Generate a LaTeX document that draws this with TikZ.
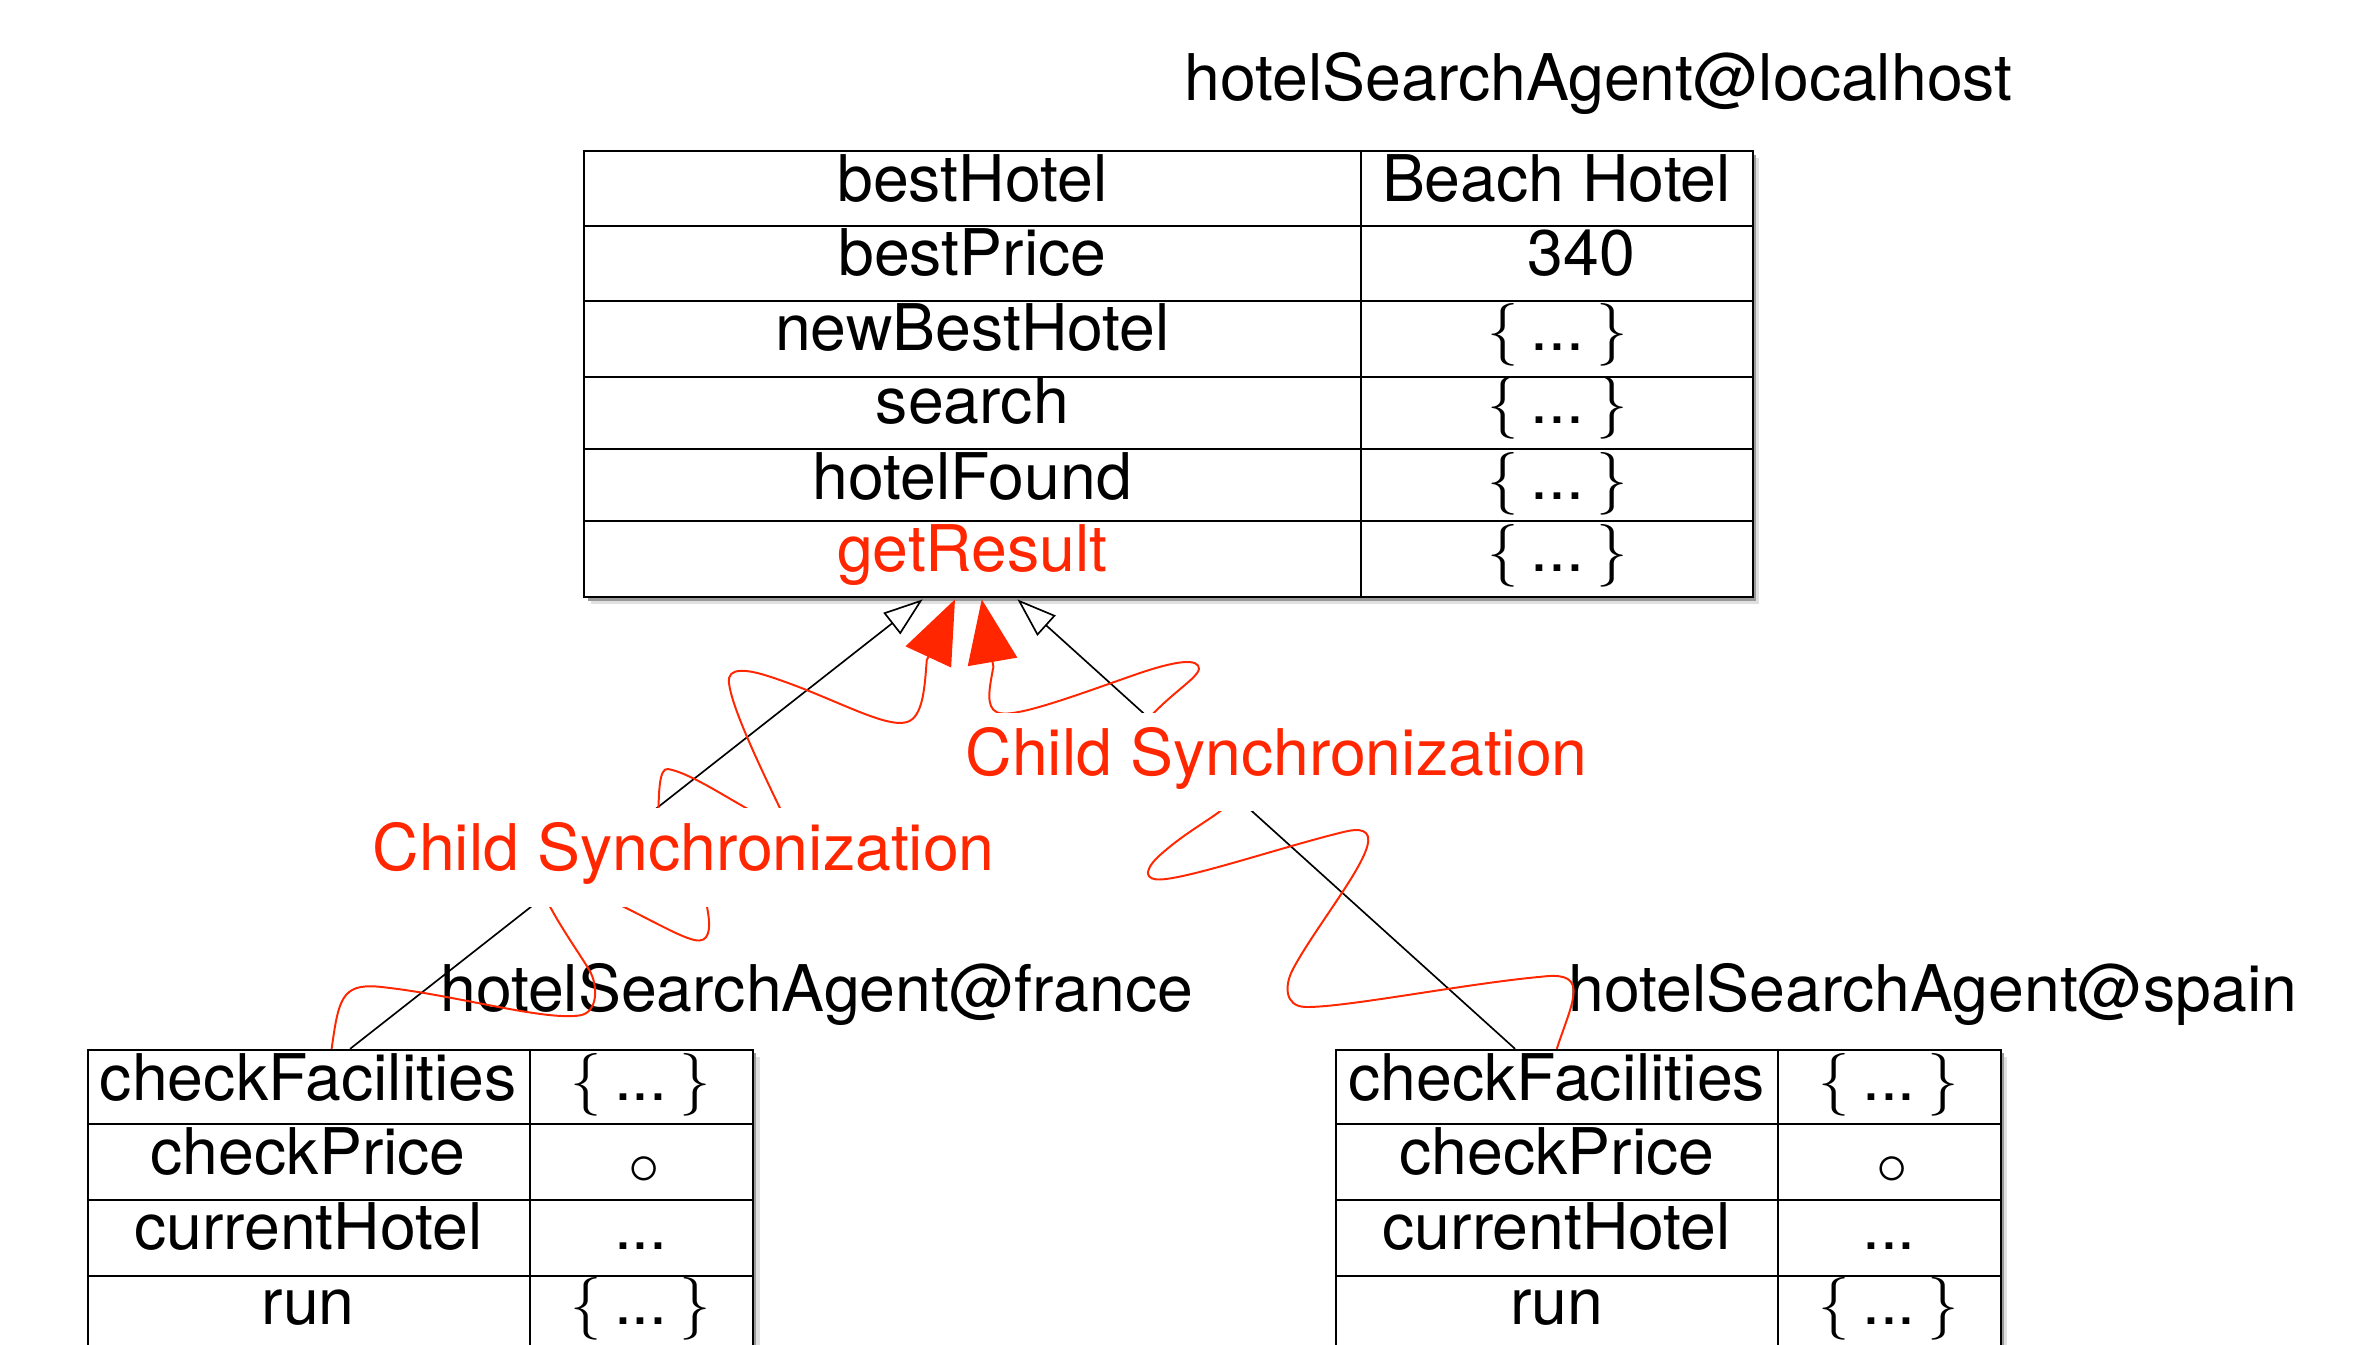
\documentclass[tikz,border=0pt]{standalone}
\usepackage{fontspec}
\setmainfont{TeX Gyre Heros}
\usetikzlibrary{arrows.meta,shadows}
\definecolor{syncred}{RGB}{255,38,0}
\newcommand\bval{$\{$\hspace{4pt}...\hspace{4pt}$\}$}
\begin{document}
\begin{tikzpicture}[x=0.5pt,y=-0.5pt,
  every node/.style={inner sep=0pt,font=\fontsize{21.3}{25}\selectfont},
  tbl/.style={draw,line width=0.7pt,fill=white,rectangle,anchor=north west,
    general shadow={draw=none,fill=black!12,shadow xshift=2.2pt,shadow yshift=-2.2pt},
    general shadow={draw=none,fill=black!40,shadow xshift=1.1pt,shadow yshift=-1.1pt}},
  tline/.style={line width=0.7pt},
  cell/.style={anchor=base},
  agentlab/.style={anchor=base west},
  synclab/.style={fill=white,text=syncred,anchor=base,text height=20.5pt,text depth=12pt,inner xsep=4pt,inner ysep=0pt},
  gen/.style={line width=0.55pt,-{Triangle[open,length=13pt,width=9pt]}},
  sync/.style={draw=syncred,line width=0.65pt,-{Triangle[length=21pt,width=16.5pt]}}
]
\useasboundingbox (0,0) rectangle (1568,890);
\clip (0,0) rectangle (1568,890);

% ---------- top table ----------
\node[agentlab] (ttitle) at (783.6,66.2) {hotelSearchAgent@localhost};
\node[tbl,minimum width=386.6pt,minimum height=147.6pt] (top) at (386.1,99.5) {};
\foreach \y in {149.4,199.5,249.3,297.2,344.9}
  \draw[tline] (386.1,\y) -- (1159.3,\y);
\draw[tline] (901.1,99.5) -- (901.1,394.7);
\foreach \i/\y/\t in {1/133.5/bestHotel,2/182.5/bestPrice,3/231.7/newBestHotel,4/280.2/search,5/330.5/hotelFound}
  \node[cell] (tn\i) at (643.6,\y) {\t};
\node[cell,text=syncred] (tn6) at (643.6,378.4) {getResult};
\node[cell] (tv1) at (1030.2,133.5) {Beach Hotel};
\node[cell] (tv2) at (1046.6,182.5) {340};
\foreach \i/\y in {3/231.7,4/280.2,5/330.5,6/378.4}
  \node[cell] (tv\i) at (1031,\y) {\bval};

% ---------- bottom tables ----------
\node[agentlab] (ftitle) at (291,669.6) {hotelSearchAgent@france};
\node[agentlab] (stitle) at (1038,669.6) {hotelSearchAgent@spain};
\node[tbl,minimum width=220.2pt,minimum height=100.15pt] (france) at (57.3,694.2) {};
\node[tbl,minimum width=219.85pt,minimum height=100.15pt] (spain) at (883.8,694.2) {};
\foreach \tb/\l/\d/\r/\nx/\vx in {f/57.3/350.6/497.7/204/424.2, s/883.8/1177/1323.5/1030.4/1250.3}{
  \foreach \y in {744.2,794.3,844.4}
    \draw[tline] (\l,\y) -- (\r,\y);
  \draw[tline] (\d,694.2) -- (\d,894.5);
  \node[cell] (\tb n1) at (\nx,728.1) {checkFacilities};
  \node[cell] (\tb n2) at (\nx,777.1) {checkPrice};
  \node[cell] (\tb n3) at (\nx,826.9) {currentHotel};
  \node[cell] (\tb n4) at (\nx,876.4) {run};
  \node[cell] (\tb v1) at (\vx,728.1) {\bval};
  \node (\tb v2) at (\vx+2,775) {$\circ$};
  \node[cell] (\tb v3) at (\vx,826.9) {...};
  \node[cell] (\tb v4) at (\vx,876.4) {\bval};
}

% ---------- connector end points ----------
\coordinate (fB) at (231.7,694.2);
\coordinate (fL) at (219.5,694.2);
\coordinate (sB) at (1002.8,694.2);
\coordinate (sR) at (1030.4,694.2);
\coordinate (tB) at (610.7,396.7);
\coordinate (tL) at (632.1,396.7);
\coordinate (tR) at (649.8,396.7);
\coordinate (tB2) at (673.4,396.7);

% ---------- generalisation lines ----------
\draw[gen] (fB) -- (tB);
\draw[gen] (sB) -- (tB2);

% ---------- child synchronization curves ----------
\draw[sync] (fL) .. controls (224,662) and (226,651) .. (250,653)
  .. controls (300,658) and (360,676) .. (384,672)
  .. controls (396,670) and (396,652) .. (390,642)
  .. controls (384,632) and (372,615) .. (364,600)
  .. controls (356,585) and (433,556) .. (435.8,535)
  .. controls (436.2,527) and (436,508) .. (442,509)
  .. controls (455,511) and (478,526) .. (494.2,535)
  .. controls (520,549) and (385,587) .. (410.4,599)
  .. controls (435,611) and (455,623) .. (463,622.5)
  .. controls (471,622) and (470,610) .. (467.7,599)
  .. controls (466,575) and (528,560) .. (516.3,535)
  .. controls (495,491) and (484,465) .. (482.5,452)
  .. controls (481,441) and (495,443) .. (510,448)
  .. controls (550,461) and (585,482) .. (600,478)
  .. controls (611,475) and (612,455) .. (613.4,437)
  -- (tL);
\draw[sync] (sR) .. controls (1036,677) and (1042,664) .. (1041.5,655)
  .. controls (1041,646) and (1032,645) .. (1020,646.5)
  .. controls (970,651) and (890,667) .. (864,666.5)
  .. controls (850,666) and (850,652) .. (856,641)
  .. controls (870,615) and (900,578) .. (905,560)
  .. controls (908,549) and (900,548) .. (890,550.5)
  .. controls (850,560) and (780,584) .. (765,582)
  .. controls (757,581) and (758,574) .. (770,564)
  .. controls (785,551) and (800,543) .. (808.6,536.1)
  .. controls (840,511) and (730,505) .. (763.4,472.2)
  .. controls (780,455) and (797,446) .. (793,440.5)
  .. controls (789,435) and (770,440) .. (750,447)
  .. controls (710,461) and (670,476) .. (660,471.5)
  .. controls (652,468) and (655,455) .. (657.5,441.3)
  -- (tR);

% ---------- labels ----------
\node[synclab] (syncL) at (452.5,576) {Child Synchronization};
\node[synclab] (syncR) at (845,513) {Child Synchronization};
\end{tikzpicture}
\end{document}
